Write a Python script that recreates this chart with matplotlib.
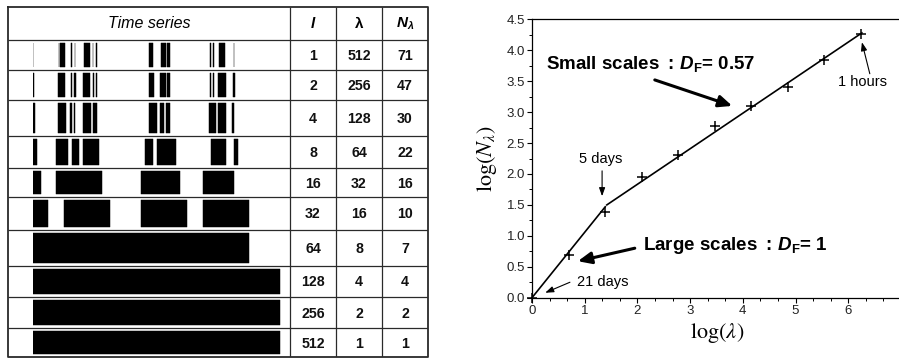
import matplotlib
matplotlib.use("Agg")
import matplotlib.pyplot as plt
import numpy as np
from matplotlib.ticker import AutoMinorLocator, FormatStrFormatter

plt.rcParams["font.family"] = ["Liberation Sans", "DejaVu Sans"]
plt.rcParams["mathtext.fontset"] = "custom"
plt.rcParams["mathtext.rm"] = "Liberation Sans:bold"
plt.rcParams["mathtext.it"] = "Liberation Sans:bold:italic"
plt.rcParams["mathtext.bf"] = "Liberation Sans:bold"

# --- data -----------------------------------------------------------------
box_size = [1, 2, 4, 8, 16, 32, 64, 128, 256, 512]
lam = [512, 256, 128, 64, 32, 16, 8, 4, 2, 1]
n_lam = [71, 47, 30, 22, 16, 10, 7, 4, 2, 1]
series_len = 512

# occupied intervals (start, end) in hours for each box size
seg_l1 = [(0, 1), (53, 54), (56, 67), (79, 80), (87, 88), (106, 119), (124, 125),
          (131, 132), (240, 249), (266, 275), (277, 284), (367, 368), (374, 375),
          (386, 399), (416, 417)]
seg_l2 = [(0, 2), (52, 66), (78, 80), (86, 90), (104, 118), (124, 126), (130, 132),
          (240, 250), (264, 276), (278, 284), (366, 370), (374, 376), (384, 400),
          (414, 418)]
seg_l4 = [(0, 4), (52, 68), (76, 80), (84, 88), (104, 120), (124, 132), (240, 256),
          (264, 272), (276, 284), (364, 380), (384, 400), (412, 416)]
seg_l8 = [(0, 8), (48, 72), (80, 96), (104, 136), (232, 248), (256, 296),
          (368, 400), (416, 424)]
seg_l16 = [(0, 16), (48, 144), (224, 304), (352, 416)]
seg_l32 = [(0, 32), (64, 160), (224, 320), (352, 448)]
seg_l64 = [(0, 448)]
seg_l128 = [(0, 512)]
seg_l256 = [(0, 512)]
seg_l512 = [(0, 512)]
segments = [seg_l1, seg_l2, seg_l4, seg_l8, seg_l16, seg_l32,
            seg_l64, seg_l128, seg_l256, seg_l512]

# fitted lines
large_fit_x = [0.0, 1.39]
large_fit_y = [0.0, 1.47]
small_fit_x = [1.42, 6.26]
small_fit_y = [1.50, 4.28]

# --- layout ---------------------------------------------------------------
W, H = 899, 362


def px_rect(x0, y0, x1, y1):
    return [x0 / W, 1 - y1 / H, (x1 - x0) / W, (y1 - y0) / H]


fig = plt.figure(figsize=(W / 100, H / 100), dpi=100)

row_edges = [7, 40, 70, 100, 136, 168, 197, 230, 266, 297, 328, 357]
col_edges = [8, 290, 336, 382, 428]

# table frame
axt = fig.add_axes(px_rect(8, 7, 428, 357))
axt.set_xlim(8, 428)
axt.set_ylim(357, 7)
axt.axis("off")
line_col = "#2a2a2a"
axt.hlines(row_edges[1:-1], col_edges[0], col_edges[-1], color=line_col, lw=0.9)
axt.vlines(col_edges[1:-1], row_edges[0], row_edges[-1], color=line_col, lw=0.9)
axt.plot([8, 428, 428, 8, 8], [7, 7, 357, 357, 7], color=line_col, lw=1.3,
         clip_on=False)

# header
hy = (row_edges[0] + row_edges[1]) / 2
axt.text((col_edges[0] + col_edges[1]) / 2, hy, "Time series", style="italic",
         fontsize=11.5, ha="center", va="center")
axt.text((col_edges[1] + col_edges[2]) / 2, hy, "l", style="italic",
         fontweight="bold", fontsize=11, ha="center", va="center")
axt.text((col_edges[2] + col_edges[3]) / 2, hy, "λ", fontweight="bold",
         fontsize=11, ha="center", va="center")
axt.text((col_edges[3] + col_edges[4]) / 2, hy, r"$N_{\lambda}$",
         fontsize=11, ha="center", va="center")

for i in range(10):
    yc = (row_edges[i + 1] + row_edges[i + 2]) / 2 + 1
    for j, val in enumerate([box_size[i], lam[i], n_lam[i]]):
        axt.text((col_edges[j + 1] + col_edges[j + 2]) / 2, yc, str(val),
                 fontsize=10.2, fontweight="bold", ha="center", va="center",
                 color="#111111")

# time series column
axs = fig.add_axes(px_rect(33, 7, 280, 357))
axs.set_xlim(0, series_len)
axs.set_ylim(357, 7)
axs.axis("off")
for i, segs in enumerate(segments):
    top = row_edges[i + 1]
    bot = row_edges[i + 2]
    axs.broken_barh([(s, e - s) for s, e in segs], (top + 3, bot - top - 6),
                    facecolor="black", edgecolor="black", linewidth=0.35)

# --- log-log plot ---------------------------------------------------------
ax = fig.add_axes(px_rect(532, 19.3, 898, 297.7))
ax.set_xlim(0, 366 / 52.7)
ax.set_ylim(0, 4.5)

ax.plot(large_fit_x, large_fit_y, color="black", lw=1.2)
ax.plot(small_fit_x, small_fit_y, color="black", lw=1.2)
ax.plot(np.log(lam), np.log(n_lam), "k+", ms=7.5, mew=1.1, clip_on=False)

ax.spines["right"].set_visible(False)
for s in ["left", "bottom", "top"]:
    ax.spines[s].set_linewidth(0.9)
ax.xaxis.set_major_locator(plt.MultipleLocator(1))
ax.yaxis.set_major_locator(plt.MultipleLocator(0.5))
ax.xaxis.set_minor_locator(AutoMinorLocator(3))
ax.yaxis.set_minor_locator(AutoMinorLocator(2))
ax.yaxis.set_major_formatter(FormatStrFormatter("%.1f"))
ax.tick_params(which="major", direction="out", length=3.5, width=0.8,
               labelsize=9.5, labelcolor="#222222", pad=1.5)
ax.tick_params(which="minor", direction="out", length=2, width=0.7)
ax.tick_params(top=False, right=False)

ax.set_xlabel(r"$\log(\lambda)$", fontsize=16, math_fontfamily="stix")
ax.set_ylabel(r"$\log(N_{\lambda})$", fontsize=16, math_fontfamily="stix")
ax.xaxis.label.set_va("center")
ax.yaxis.label.set_va("center")
ax.xaxis.set_label_coords(0.505, -0.127)
ax.yaxis.set_label_coords(-0.123, 0.5)

big_arrow = dict(arrowstyle="-|>,head_length=0.8,head_width=0.35",
                 color="black", lw=2.2, shrinkA=0, shrinkB=0)
thin_arrow = dict(arrowstyle="-|>,head_length=0.5,head_width=0.18",
                  color="black", lw=0.8, shrinkA=0, shrinkB=0)

ax.text(0.27, 3.77, r"Small scales $\mathit{:\,D}_{\mathrm{F}}$= 0.57",
        fontsize=13.5, fontweight="bold", ha="left", va="center")
ax.annotate("", xy=(3.80, 3.10), xytext=(2.33, 3.52), arrowprops=big_arrow)

ax.text(2.11, 0.85, r"Large scales $\mathit{:\,D}_{\mathrm{F}}$= 1",
        fontsize=13.5, fontweight="bold", ha="left", va="center")
ax.annotate("", xy=(0.87, 0.59), xytext=(1.95, 0.80), arrowprops=big_arrow)

ax.text(1.30, 2.24, "5 days", fontsize=10.5, ha="center", va="center")
ax.annotate("", xy=(1.33, 1.64), xytext=(1.33, 2.05), arrowprops=thin_arrow)

ax.text(0.85, 0.25, "21 days", fontsize=10.5, ha="left", va="center")
ax.annotate("", xy=(0.25, 0.08), xytext=(0.72, 0.25), arrowprops=thin_arrow)

ax.text(6.28, 3.49, "1 hours", fontsize=10.5, ha="center", va="center")
ax.annotate("", xy=(6.26, 4.13), xytext=(6.41, 3.62), arrowprops=thin_arrow)

fig.savefig("out.png", dpi=100)
